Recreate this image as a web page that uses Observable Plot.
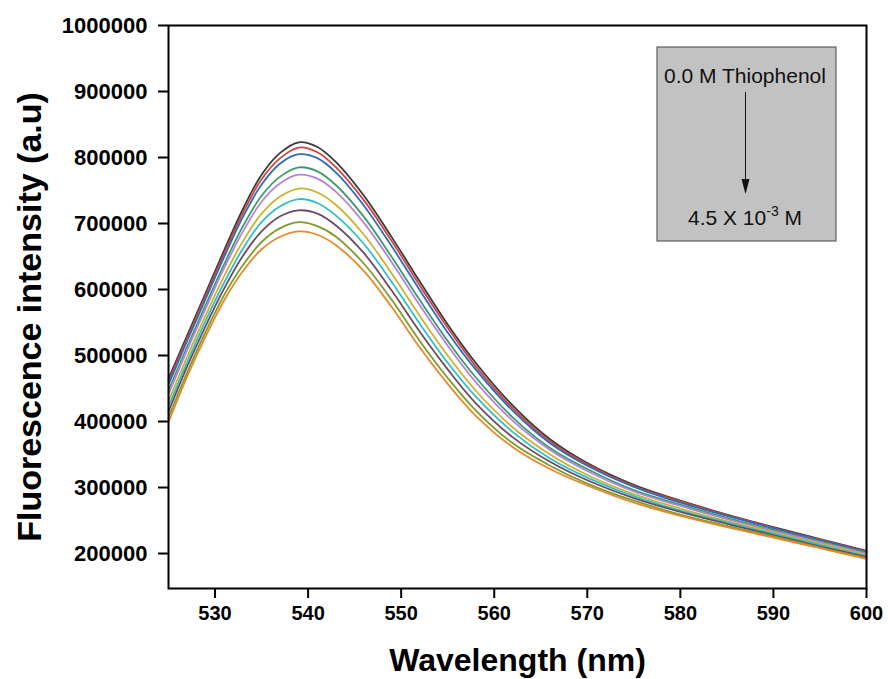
<!DOCTYPE html>
<html>
<head>
<meta charset="utf-8">
<script src="https://cdn.jsdelivr.net/npm/d3@7"></script>
<script src="https://cdn.jsdelivr.net/npm/@observablehq/plot@0.6"></script>
<style>
  html, body { margin: 0; padding: 0; background: #ffffff; }
  #chart svg { display: block; }
  #chart g[aria-label="x-axis tick label"], #chart g[aria-label="y-axis tick label"] { font-weight: bold; }
</style>
</head>
<body>
<div id="chart"></div>
<script>
// Wavelength grid (nm)
const wavelengths = [525,527,529,531,533,535,537,539,541,543,546,549,552,555,558,562,566,570,575,580,585,590,595,600];

// Fluorescence intensity (a.u.) per thiophenol addition
const s01 = [465000,530000,595000,660000,722000,774000,807000,823000,816000,793000,742000,679000,612000,547000,489000,424000,373000,337000,304000,280000,259000,240000,222000,204000];
const s02 = [461000,526000,591000,655000,716000,767000,799000,815000,808000,785000,735000,673000,606000,542000,484000,420000,370000,335000,302000,279000,258000,239000,221000,203000];
const s03 = [456000,522000,586000,650000,710000,759000,791000,805000,799000,777000,727000,665000,599000,535000,479000,416000,367000,333000,301000,277000,257000,238000,220000,202000];
const s04 = [447000,513000,577000,639000,696000,742000,771000,785000,779000,758000,710000,649000,584000,522000,467000,406000,360000,328000,296000,274000,254000,236000,218000,201000];
const s05 = [441000,508000,571000,633000,688000,733000,761000,774000,768000,748000,701000,641000,576000,515000,460000,401000,357000,325000,294000,272000,252000,234000,217000,200000];
const s06 = [431000,498000,561000,621000,673000,715000,741000,753000,747000,728000,683000,624000,560000,500000,447000,391000,350000,319000,290000,268000,249000,232000,215000,198000];
const s07 = [423000,490000,553000,611000,662000,702000,726000,737000,731000,712000,669000,611000,548000,489000,438000,384000,344000,315000,287000,265000,247000,230000,213000,196000];
const s08 = [415000,483000,545000,602000,651000,688000,711000,720000,715000,697000,655000,598000,536000,479000,428000,376000,339000,311000,284000,263000,245000,228000,211000,195000];
const s09 = [406000,474000,536000,592000,637000,672000,693000,702000,696000,680000,639000,584000,522000,466000,417000,367000,333000,306000,280000,259000,242000,226000,209000,193000];
const s10 = [399000,468000,529000,584000,628000,661000,680000,688000,683000,667000,628000,573000,512000,457000,409000,361000,328000,303000,277000,257000,240000,224000,208000,192000];

const seriesNames = ["s01","s02","s03","s04","s05","s06","s07","s08","s09","s10"];
const seriesColors = ["#3a3a3a","#d0443f","#2d6cb8","#3d9a6e","#b583d8","#c9b431","#2fc0c6","#6d4a66","#7f9b2c","#e58a2c"];

const xTicks = [530,540,550,560,570,580,590,600];
const yTicks = [200000,300000,400000,500000,600000,700000,800000,900000,1000000];
const xTitle = "Wavelength (nm)";
const yTitle = "Fluorescence intensity (a.u)";
const legendTop = "0.0 M Thiophenol";
const legendBottomMain = "4.5 X 10";
const legendBottomSup = "-3";
const legendBottomUnit = " M";

const allSeries = [s01,s02,s03,s04,s05,s06,s07,s08,s09,s10];
const rows = allSeries.flatMap((vals, i) => wavelengths.map((w, j) => ({wl: w, v: vals[j], s: seriesNames[i]})));

const font = "'Liberation Sans', Arial, Helvetica, sans-serif";

const chart = Plot.plot({
  width: 888,
  height: 679,
  marginLeft: 168,
  marginRight: 22,
  marginTop: 25,
  marginBottom: 91,
  style: {fontFamily: font, background: "#ffffff", color: "#000000"},
  x: {domain: [525, 600]},
  y: {domain: [147000, 1000000]},
  color: {domain: seriesNames, range: seriesColors},
  marks: [
    Plot.line(rows, {x: "wl", y: "v", z: "s", stroke: "s", strokeWidth: 1.8, curve: "catmull-rom"}),
    Plot.frame({stroke: "#000000", strokeWidth: 2}),
    Plot.axisX({ticks: xTicks, tickSize: 10, tickPadding: 7, fontSize: 20, fontWeight: "bold", strokeWidth: 2, label: null, tickFormat: d => String(d)}),
    Plot.axisY({ticks: yTicks, tickSize: 10, tickPadding: 11, fontSize: 22, fontWeight: "bold", strokeWidth: 2, label: null, tickFormat: d => String(d)}),
    Plot.text([xTitle], {text: d => d, frameAnchor: "bottom", lineAnchor: "middle", textAnchor: "middle", dy: 72, fontSize: 32, fontWeight: "bold", fill: "#000000"}),
    Plot.text([yTitle], {text: d => d, frameAnchor: "left", textAnchor: "middle", lineAnchor: "middle", dx: -138, dy: 10, rotate: -90, fontSize: 34, fontWeight: "bold", fill: "#000000"})
  ]
});

document.getElementById("chart").appendChild(chart);

// Inset annotation box
const svg = d3.select(chart);
const g = svg.append("g").attr("font-family", font);
g.append("rect").attr("x", 657).attr("y", 47).attr("width", 179).attr("height", 194)
  .attr("fill", "#c2c2c2").attr("stroke", "#444444").attr("stroke-width", 1);
g.append("text").attr("x", 745).attr("y", 83).attr("text-anchor", "middle")
  .attr("font-size", 21).attr("fill", "#111111").text(legendTop);
g.append("line").attr("x1", 745.5).attr("x2", 745.5).attr("y1", 92).attr("y2", 182)
  .attr("stroke", "#111111").attr("stroke-width", 1);
g.append("path").attr("d", "M741.5,179 L749.5,179 L745.5,194 Z").attr("fill", "#111111");
const t2 = g.append("text").attr("x", 745).attr("y", 225).attr("text-anchor", "middle")
  .attr("font-size", 21).attr("fill", "#111111");
t2.append("tspan").text(legendBottomMain);
t2.append("tspan").attr("dy", -9).attr("font-size", 14).text(legendBottomSup);
t2.append("tspan").attr("dy", 9).text(legendBottomUnit);
</script>
</body>
</html>
